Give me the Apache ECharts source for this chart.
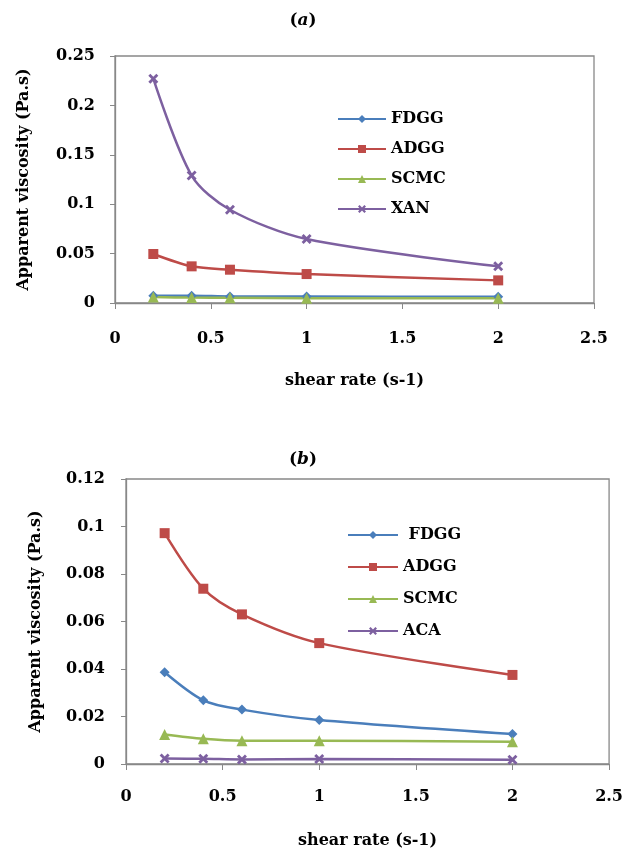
<!DOCTYPE html>
<html><head><meta charset="utf-8">
<script src="https://cdn.jsdelivr.net/npm/echarts@6/dist/echarts.min.js"></script>
<style>html,body{margin:0;padding:0;background:#fff}#c{width:626px;height:850px}</style>
</head><body><div id="c"></div>
<script>
const shearRate = [0.2, 0.4, 0.6, 1, 2];
const xTicks = [0, 0.5, 1, 1.5, 2, 2.5];
// chart (a)
const aFDGG = [0.0074, 0.0074, 0.0066, 0.0065, 0.0064];
const aADGG = [0.0496, 0.0371, 0.0337, 0.0293, 0.0229];
const aSCMC = [0.0060, 0.0055, 0.0054, 0.0049, 0.0048];
const aXAN  = [0.2270, 0.1290, 0.0944, 0.0647, 0.0371];
// chart (b)
const bFDGG = [0.0386, 0.0268, 0.0229, 0.0185, 0.0126];
const bADGG = [0.0972, 0.0738, 0.0630, 0.0509, 0.0375];
const bSCMC = [0.0124, 0.0106, 0.0098, 0.0098, 0.0094];
const bACA  = [0.0023, 0.0022, 0.0019, 0.0021, 0.0018];

const C = {FDGG:'#4a7ebb', ADGG:'#be4b48', SCMC:'#98b954', X:'#7d60a0'};
const XSYM = 'path://M2,0 L5,3 L8,0 L10,2 L7,5 L10,8 L8,10 L5,7 L2,10 L0,8 L3,5 L0,2 Z';
const FONT = '"DejaVu Serif", "Liberation Serif", serif';
const pts = v => shearRate.map((x,i)=>[x, v[i]]);

function ser(name, data, color, sym, size, gi){
  return {name, type:'line', xAxisIndex:gi, yAxisIndex:gi, data:pts(data), smooth:0.3,
    symbol:sym, symbolSize:size, showSymbol:true,
    lineStyle:{color, width:2.5}, itemStyle:{color}, z:3};
}
function xA(gi, margin, gap){
  return {gridIndex:gi, type:'value', min:0, max:2.5, interval:0.5,
    axisLine:{lineStyle:{color:'#888', width:1.3}},
    axisTick:{show:true, inside:false, length:6, lineStyle:{color:'#888'}},
    splitLine:{show:false},
    axisLabel:{margin, color:'#000', fontFamily:FONT, fontWeight:'bold', fontSize:16},
    name:'shear rate (s-1)', nameLocation:'middle', nameGap:gap,
    nameTextStyle:{color:'#000', fontFamily:FONT, fontWeight:'bold', fontSize:16}};
}
function yA(gi, max, itv, margin, gap){
  return {gridIndex:gi, type:'value', min:0, max, interval:itv,
    axisLine:{show:true, lineStyle:{color:'#888', width:1.3}},
    axisTick:{show:true, inside:false, length:5, lineStyle:{color:'#888'}},
    splitLine:{show:false},
    axisLabel:{margin, color:'#000', fontFamily:FONT, fontWeight:'bold', fontSize:16},
    name:'Apparent viscosity (Pa.s)', nameLocation:'middle', nameGap:gap, nameRotate:90,
    nameTextStyle:{color:'#000', fontFamily:FONT, fontWeight:'bold', fontSize:16}};
}
const legendText = {color:'#000', fontFamily:FONT, fontWeight:'bold', fontSize:16, lineHeight:20};
const chart = echarts.init(document.getElementById('c'), null, {renderer:'canvas'});
chart.setOption({
  animation:false,
  backgroundColor:'#fff',
  title:[
    {text:'({i|a})', left:298, top:7, textAlign:'center',
     textStyle:{fontFamily:FONT, fontWeight:'bold', fontSize:17, color:'#000',
       rich:{i:{fontFamily:FONT, fontWeight:'bold', fontStyle:'italic', fontSize:17, color:'#000'}}}},
    {text:'({i|b})', left:298, top:446, textAlign:'center',
     textStyle:{fontFamily:FONT, fontWeight:'bold', fontSize:17, color:'#000',
       rich:{i:{fontFamily:FONT, fontWeight:'bold', fontStyle:'italic', fontSize:17, color:'#000'}}}}
  ],
  grid:[
    {left:115, top:56, width:479, height:247, show:true, borderColor:'#888', borderWidth:1.3, backgroundColor:'transparent'},
    {left:126, top:479, width:485, height:290, show:true, borderColor:'#888', borderWidth:1.3, backgroundColor:'transparent'}
  ],
  xAxis:[xA(0, 28, 70), xA(1, 25, 69)],
  yAxis:[yA(0, 0.25, 0.05, 20, 83), yA(1, 0.12, 0.02, 21, 82)],
  legend:[
    {orient:'vertical', left:332, top:104, itemWidth:48, itemHeight:10, itemGap:10,
     textStyle:legendText, data:['FDGG','ADGG','SCMC','XAN']},
    {orient:'vertical', left:342, top:520, itemWidth:50, itemHeight:10, itemGap:12,
     textStyle:legendText, data:[' FDGG','ADGG ','SCMC ','ACA']}
  ],
  series:[
    ser('FDGG', aFDGG, C.FDGG, 'diamond', 10, 0),
    ser('ADGG', aADGG, C.ADGG, 'rect', 10, 0),
    ser('SCMC', aSCMC, C.SCMC, 'triangle', 11, 0),
    ser('XAN', aXAN, C.X, XSYM, 10, 0),
    ser(' FDGG', bFDGG, C.FDGG, 'diamond', 10, 1),
    ser('ADGG ', bADGG, C.ADGG, 'rect', 10, 1),
    ser('SCMC ', bSCMC, C.SCMC, 'triangle', 11, 1),
    ser('ACA', bACA, C.X, XSYM, 10, 1)
  ]
});
</script></body></html>
